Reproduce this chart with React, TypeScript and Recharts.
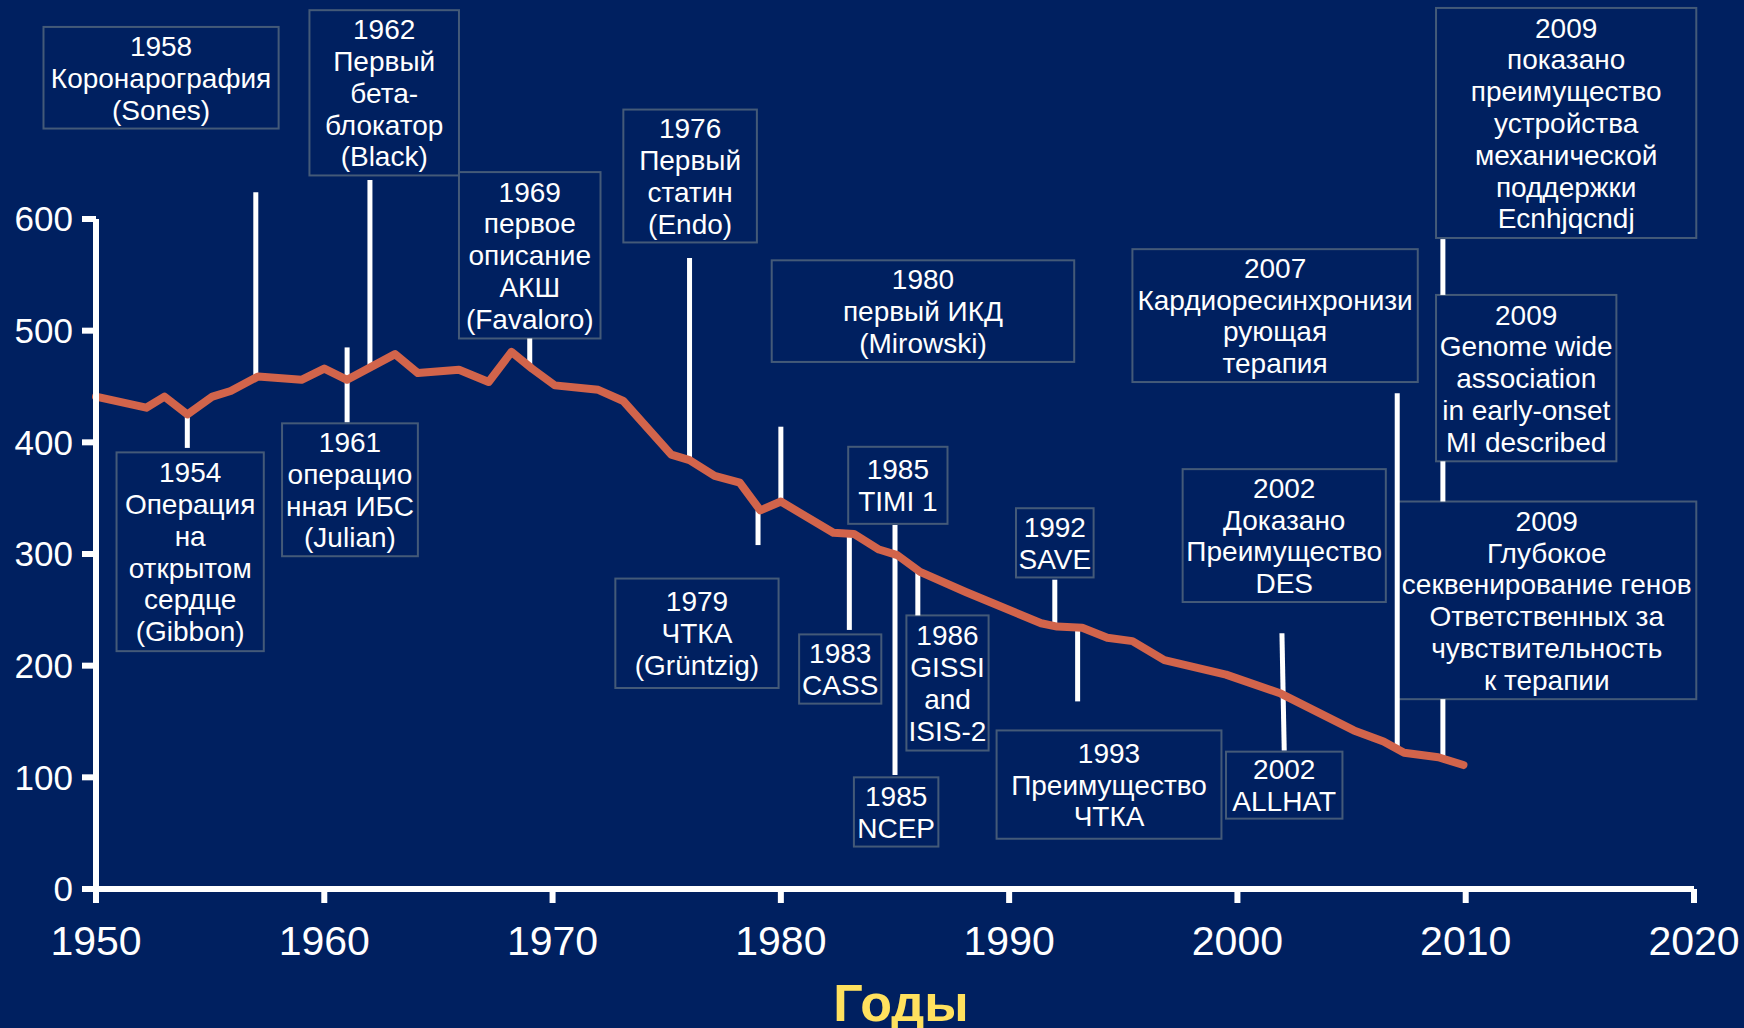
import { Label, Line, LineChart, ReferenceArea, ReferenceLine, XAxis, YAxis } from "recharts";

const BG = "#002060";
const BORDER = "#445a78";
const FONT = "'Liberation Sans', Arial, Helvetica, sans-serif";

// orange curve
const years = [
  1950, 1952.2, 1953, 1954, 1955.1, 1955.9, 1957.1, 1959, 1960, 1961, 1963.1, 1964.1, 1965.9, 1967.2,
  1968.2, 1969.1, 1970.1, 1972, 1973.1, 1975.2, 1976, 1977.1, 1978.2, 1979.1, 1980, 1982.3, 1983.2,
  1984.3, 1985.1, 1986.1, 1988.1, 1991.4, 1992.1, 1993.2, 1994.3, 1995.4, 1996.8, 1999.5, 2001.9,
  2005.1, 2006.4, 2007.3, 2008.8, 2009.9,
];
const values = [
  441, 431, 441, 425, 441, 446, 459, 456, 466, 456, 479, 462, 465, 454, 481, 466, 451, 447, 437, 389,
  384, 370, 364, 339, 347, 319, 318, 304, 299, 284, 266, 238, 235, 234, 225, 222, 205, 192, 175, 142,
  132, 122, 118, 111,
];

const xTicks = [1950, 1960, 1970, 1980, 1990, 2000, 2010, 2020];
const yTicks = [0, 100, 200, 300, 400, 500, 600];

// white event pins: year, bottom value, top value
const pinYears = [1954, 1957, 1961, 1962, 1969, 1976, 1979, 1980, 1983, 1985, 1986, 1992, 1993, 2007, 2009, 2009, 2009];
const pinFrom = [395, 459, 418, 467, 466, 383, 308, 347, 232, 102, 245, 234, 168, 124, 118, 347, 532];
const pinTo = [425, 624, 485, 635, 493, 565, 339, 414, 317, 326, 284, 277, 233, 444, 170, 383, 582];

// annotation boxes in year / value units
const notes = [
  { x1: 1947.7, x2: 1958.0, y1: 681, y2: 772, lines: ["1958", "Коронарография", "(Sones)"] },
  { x1: 1959.35, x2: 1965.9, y1: 639, y2: 787, lines: ["1962", "Первый", "бета-", "блокатор", "(Black)"] },
  { x1: 1965.9, x2: 1972.1, y1: 493, y2: 642, lines: ["1969", "первое", "описание", "АКШ", "(Favaloro)"] },
  { x1: 1973.1, x2: 1978.95, y1: 579, y2: 698, lines: ["1976", "Первый", "статин", "(Endo)"] },
  { x1: 1979.6, x2: 1992.85, y1: 472, y2: 563, lines: ["1980", "первый ИКД", "(Mirowski)"] },
  { x1: 1995.4, x2: 2007.9, y1: 454, y2: 573, lines: ["2007", "Кардиоресинхронизи", "рующая", "терапия"] },
  {
    x1: 2008.7, x2: 2020.1, y1: 583, y2: 789,
    lines: ["2009", "показано", "преимущество", "устройства", "механической", "поддержки", "Ecnhjqcndj"],
  },
  { x1: 2008.7, x2: 2016.6, y1: 383, y2: 532, lines: ["2009", "Genome wide", "association", "in early-onset", "MI described"] },
  {
    x1: 2007.0, x2: 2020.1, y1: 170, y2: 347,
    lines: ["2009", "Глубокое", "секвенирование генов", "Ответственных за", "чувствительность", "к терапии"],
  },
  { x1: 1950.9, x2: 1957.35, y1: 213, y2: 391, lines: ["1954", "Операция", "на", "открытом", "сердце", "(Gibbon)"] },
  { x1: 1958.15, x2: 1964.1, y1: 298, y2: 417, lines: ["1961", "операцио", "нная ИБС", "(Julian)"] },
  { x1: 1972.75, x2: 1979.9, y1: 180, y2: 278, lines: ["1979", "ЧТКА", "(Grüntzig)"] },
  { x1: 1980.8, x2: 1984.4, y1: 166, y2: 228, lines: ["1983", "CASS"] },
  { x1: 1982.95, x2: 1987.3, y1: 327, y2: 396, lines: ["1985", "TIMI 1"] },
  { x1: 1983.2, x2: 1986.9, y1: 38, y2: 100, lines: ["1985", "NCEP"] },
  { x1: 1985.5, x2: 1989.1, y1: 124, y2: 245, lines: ["1986", "GISSI", "and", "ISIS-2"] },
  { x1: 1990.3, x2: 1993.7, y1: 279, y2: 341, lines: ["1992", "SAVE"] },
  { x1: 1989.45, x2: 1999.3, y1: 45, y2: 142, lines: ["1993", "Преимущество", "ЧТКА"] },
  { x1: 1997.6, x2: 2006.5, y1: 257, y2: 376, lines: ["2002", "Доказано", "Преимущество", "DES"] },
  { x1: 1999.5, x2: 2004.6, y1: 63, y2: 123, lines: ["2002", "ALLHAT"] },
];

const data = years.map((year, i) => ({ year, value: values[i] }));

function noteShape(lines: string[]) {
  return (p: any) => {
    const { x, y, width, height } = p;
    const cx = x + width / 2;
    const cy = y + height / 2;
    const lh = 31.8;
    return (
      <g>
        <rect x={x} y={y} width={width} height={height} fill={BG} stroke={BORDER} strokeWidth={2} />
        <text textAnchor="middle" fill="#fff" fontSize={28} fontFamily={FONT}>
          {lines.map((t, i) => (
            <tspan key={i} x={cx} y={cy + (i - (lines.length - 1) / 2) * lh + 10}>
              {t}
            </tspan>
          ))}
        </text>
      </g>
    );
  };
}

export default function App() {
  return (
    <div style={{ position: "fixed", left: 0, top: 0, width: 1744, height: 1028, background: BG }}>
      <LineChart width={1744} height={1028} data={data} margin={{ top: 219, right: 50, bottom: 0, left: 0 }}>
        <XAxis
          type="number"
          dataKey="year"
          domain={[1950, 2020]}
          ticks={xTicks}
          height={139}
          tickSize={14}
          tickMargin={23}
          axisLine={{ stroke: "#fff", strokeWidth: 6 }}
          tickLine={{ stroke: "#fff", strokeWidth: 6 }}
          tick={{ fill: "#fff", fontSize: 41, fontFamily: FONT }}
        >
          <Label
            value="Годы"
            position="insideBottom"
            offset={7}
            dx={6}
            fill="#ffe15e"
            fontSize={52}
            fontWeight="bold"
            fontFamily={FONT}
          />
        </XAxis>
        <YAxis
          type="number"
          domain={[0, 600]}
          ticks={yTicks}
          width={96}
          tickSize={14}
          tickMargin={9}
          axisLine={{ stroke: "#fff", strokeWidth: 6 }}
          tickLine={{ stroke: "#fff", strokeWidth: 6 }}
          tick={{ fill: "#fff", fontSize: 35, fontFamily: FONT }}
        />
        {pinYears.map((yr, i) => (
          <ReferenceLine
            key={"p" + i}
            segment={[
              { x: yr, y: pinFrom[i] },
              { x: yr, y: pinTo[i] },
            ]}
            stroke="#fff"
            strokeWidth={5}
            ifOverflow="visible"
          />
        ))}
        <ReferenceLine
          segment={[
            { x: 2001.95, y: 229 },
            { x: 2002.05, y: 124 },
          ]}
          stroke="#fff"
          strokeWidth={5}
          ifOverflow="visible"
        />
        {notes.map((n, i) => (
          <ReferenceArea
            key={"n" + i}
            x1={n.x1}
            x2={n.x2}
            y1={n.y1}
            y2={n.y2}
            ifOverflow="visible"
            shape={noteShape(n.lines)}
          />
        ))}
        <Line
          type="linear"
          dataKey="value"
          stroke="#d2644b"
          strokeWidth={8}
          strokeLinecap="round"
          strokeLinejoin="round"
          dot={false}
          activeDot={false}
          isAnimationActive={false}
        />
      </LineChart>
    </div>
  );
}
